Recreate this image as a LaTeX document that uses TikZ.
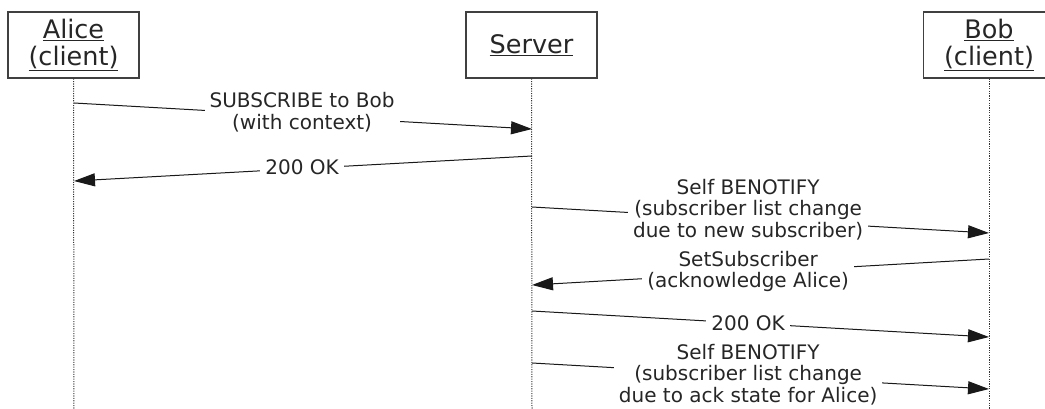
\documentclass[tikz,border=0pt]{standalone}
\usepackage{fontspec}
\setmainfont{DejaVu Sans}
\usetikzlibrary{arrows.meta}
\begin{document}
\begin{tikzpicture}[x=1pt,y=-1pt,
  actor/.style={draw=black!75, line width=1.3pt, minimum width=131pt, minimum height=66pt,
    align=center, inner sep=0pt, font=\fontsize{25.5}{27.5}\selectfont, text=black!85},
  life/.style={line width=1pt, dash pattern=on 1.1pt off 1.3pt, black!80},
  msg/.style={line width=1pt, black!90, -{Triangle[length=21pt,width=13pt]}},
  lbl/.style={fill=white, align=center, inner xsep=5pt, inner ysep=1pt,
    font=\fontsize{20}{21.5}\selectfont, text=black!85}]
\useasboundingbox (0,0) rectangle (1045,409);
\node[actor] (alice) at (73.5,45) {\underline{Alice}\\\underline{(client)}};
\node[actor] (server) at (531.5,45) {\underline{Server}};
\node[actor] (bob) at (989,45) {\underline{Bob}\\\underline{(client)}};
\coordinate (aend) at (74,409);
\coordinate (send) at (532,409);
\coordinate (bend) at (989,409);
\draw[life] (alice.south) -- (aend);
\draw[life] (server.south) -- (send);
\draw[life] (bob.south) -- (bend);
% message endpoints
\coordinate (m1s) at (74,103);  \coordinate (m1e) at (532,129);
\coordinate (m2s) at (532,156); \coordinate (m2e) at (74,181);
\coordinate (m3s) at (532,207); \coordinate (m3e) at (989,233);
\coordinate (m4s) at (989,259); \coordinate (m4e) at (532,285);
\coordinate (m5s) at (532,311); \coordinate (m5e) at (989,337);
\coordinate (m6s) at (532,363); \coordinate (m6e) at (989,389);
\draw[msg] (m1s) -- node[lbl, pos=0.498, yshift=3.5pt] (l1) {SUBSCRIBE to Bob\\(with context)} (m1e);
\draw[msg] (m2s) -- node[lbl, pos=0.502, yshift=1.5pt] (l2) {200 OK} (m2e);
\draw[msg] (m3s) -- node[lbl, pos=0.473, yshift=10pt] (l3) {Self BENOTIFY\\(subscriber list change\\due to new subscriber)} (m3e);
\draw[msg] (m4s) -- node[lbl, pos=0.527, yshift=1pt] (l4) {SetSubscriber\\(acknowledge Alice)} (m4e);
\draw[msg] (m5s) -- node[lbl, pos=0.473] (l5) {200 OK} (m5e);
\draw[msg] (m6s) -- node[lbl, pos=0.473, yshift=1pt] (l6) {Self BENOTIFY\\(subscriber list change\\due to ack state for Alice)} (m6e);
\end{tikzpicture}
\end{document}
